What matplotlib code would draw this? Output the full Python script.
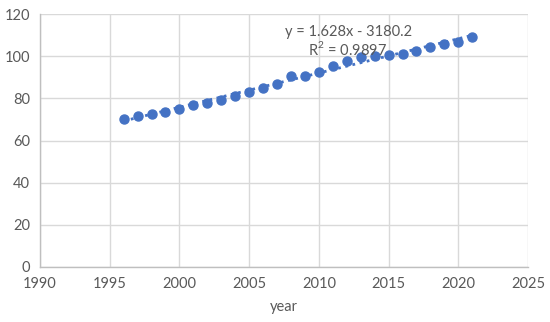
import numpy as np
import matplotlib as mpl
mpl.use('Agg')
import matplotlib.pyplot as plt

years = [1996, 1997, 1998, 1999, 2000, 2001, 2002, 2003, 2004, 2005, 2006, 2007, 2008,
         2009, 2010, 2011, 2012, 2013, 2014, 2015, 2016, 2017, 2018, 2019, 2020, 2021]
values = [70.4, 71.5, 72.5, 73.4, 74.9, 76.7, 78.0, 79.4, 81.2, 82.9, 85.0, 86.8, 90.4,
          90.8, 92.4, 95.4, 97.8, 99.4, 100.1, 100.6, 100.8, 102.3, 104.3, 105.9, 106.6, 109.3]
xticks = [1990, 1995, 2000, 2005, 2010, 2015, 2020, 2025]
yticks = [0, 20, 40, 60, 80, 100, 120]
eq_text = 'y = 1.628x - 3180.2'
r2_text = 'R$^2$ = 0.9897'

plt.rcParams['font.family'] = ['Lato', 'DejaVu Sans']
plt.rcParams['mathtext.fontset'] = 'custom'
plt.rcParams['mathtext.rm'] = 'Lato'
blue = '#4472C4'
txt = '#595959'

fig = plt.figure(figsize=(5.5, 3.22), dpi=100)
ax = fig.add_axes([40/550, 1-267/322, 488/550, 253/322])

coef = np.polyfit(years, values, 1)
xx = np.array([years[0], years[-1]])
ax.plot(xx, np.polyval(coef, xx), ':', color=blue, lw=2, zorder=2)
ax.plot(years, values, 'o', color=blue, ms=6.5, zorder=3)

ax.set_xlim(1990, 2025)
ax.set_ylim(0, 120)
ax.set_xticks(xticks)
ax.set_yticks(yticks)
ax.grid(True, color='#d9d9d9', lw=1)
ax.set_axisbelow(True)
for s in ['top', 'right']:
    ax.spines[s].set_visible(False)
for s in ['left', 'bottom']:
    ax.spines[s].set_color('#bfbfbf')
    ax.spines[s].set_linewidth(1)
ax.tick_params(length=0, labelsize=10.5, labelcolor=txt, pad=7)
ax.set_xlabel('year', fontsize=10.5, color=txt, labelpad=7)

ax.text(2007.6, 111.5, eq_text, fontsize=10.5, color=txt, ha='left', va='center')
ax.text(2009.2, 103.5, r2_text, fontsize=10.5, color=txt, ha='left', va='center')

plt.savefig('out.png', dpi=100)
